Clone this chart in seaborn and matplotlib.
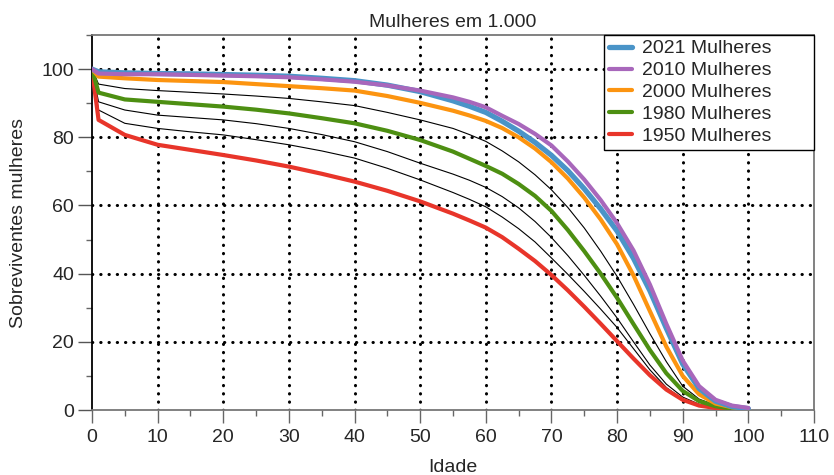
import matplotlib
matplotlib.use("Agg")
import matplotlib.pyplot as plt
import seaborn as sns
from matplotlib.ticker import MultipleLocator

ages = [0, 1, 5, 10, 15, 20, 25, 30, 35, 40, 45, 50, 55, 57.5, 60, 62.5, 65, 67.5, 70, 72.5,
        75, 77.5, 80, 82.5, 85, 87.5, 90, 92.5, 95, 97.5, 100]

s2021 = [100, 99.2, 98.9, 98.7, 98.6, 98.4, 98.2, 97.9, 97.3, 96.6, 95.3, 93.4, 90.7, 89.1, 87.3,
         84.7, 81.8, 78.5, 74.7, 70.2, 64.9, 59.0, 52.5, 44.5, 35.0, 24.0, 13.5, 6.3, 2.6, 1.0, 0.4]
s2010 = [100, 98.7, 98.5, 98.5, 98.3, 98.1, 97.9, 97.6, 97.0, 96.3, 95.2, 93.7, 91.7, 90.4, 88.8,
         86.3, 83.9, 81.0, 77.6, 72.9, 67.6, 61.6, 54.8, 46.8, 36.8, 25.3, 14.5, 7.0, 3.0, 1.3, 0.6]
s2000 = [100, 97.8, 97.3, 96.8, 96.5, 96.2, 95.6, 95.0, 94.4, 93.7, 92.1, 90.1, 87.8, 86.4, 84.8,
         82.7, 80.0, 76.7, 72.7, 67.9, 62.3, 55.9, 48.6, 39.5, 29.0, 18.6, 10.0, 4.6, 1.9, 0.8, 0.3]
s1990 = [100, 95.6, 94.3, 93.7, 93.2, 92.7, 92.1, 91.4, 90.4, 89.3, 87.3, 85.1, 82.6, 80.8, 78.8,
         76.0, 72.8, 69.0, 64.6, 59.4, 53.4, 46.6, 39.2, 31.0, 22.4, 14.2, 7.0, 3.2, 1.4, 0.5, 0.1]
s1980 = [100, 93.1, 91.1, 90.4, 89.7, 89.0, 88.1, 87.0, 85.6, 84.1, 81.9, 79.2, 75.8, 73.7, 71.6,
         69.3, 66.3, 62.8, 58.4, 52.8, 46.6, 40.0, 32.9, 25.2, 17.6, 10.8, 5.6, 2.6, 1.1, 0.4, 0.1]
s1970 = [100, 90.4, 88.0, 86.5, 85.8, 85.1, 84.0, 82.6, 80.8, 78.7, 75.8, 72.4, 69.2, 67.4, 65.3,
         62.6, 59.3, 55.3, 50.6, 45.3, 39.5, 33.4, 27.0, 20.0, 13.2, 7.6, 3.8, 1.7, 0.7, 0.3, 0.1]
s1960 = [100, 88.0, 84.1, 82.6, 81.6, 80.7, 79.3, 77.8, 76.0, 73.9, 70.9, 67.5, 63.8, 61.8, 59.6,
         56.6, 53.2, 49.3, 44.6, 39.8, 34.8, 29.6, 24.2, 18.0, 11.8, 6.6, 3.2, 1.5, 0.7, 0.3, 0.1]
s1950 = [100, 85.1, 80.7, 77.8, 76.3, 74.8, 73.2, 71.4, 69.3, 67.0, 64.3, 61.2, 57.6, 55.6, 53.5,
         50.7, 47.3, 43.7, 39.6, 35.1, 30.3, 25.3, 20.2, 15.1, 10.2, 6.0, 3.0, 1.3, 0.6, 0.2, 0.1]

colored_labels = ["2021 Mulheres", "2010 Mulheres", "2000 Mulheres", "1980 Mulheres", "1950 Mulheres"]
colored_series = [s2021, s2010, s2000, s1980, s1950]
colored_colors = ["#4a94c8", "#a867bb", "#fc9410", "#4d8f12", "#e8352a"]
colored_widths = [3.8, 3.0, 3.0, 3.0, 3.0]
black_series = [s1990, s1970, s1960]

x_ticks = [0, 10, 20, 30, 40, 50, 60, 70, 80, 90, 100, 110]
y_ticks = [0, 20, 40, 60, 80, 100]

sns.set_style("white")
plt.rcParams["font.family"] = ["Liberation Sans", "DejaVu Sans"]

fig = plt.figure(figsize=(8.34, 4.75), dpi=100)
ax = fig.add_axes([0.1103, 0.1368, 0.8657, 0.7895])

# dotted grid (interior lines only)
for xv in x_ticks[1:-1]:
    ax.axvline(xv, color="black", linestyle=(0, (0.1, 2.6)), lw=2.2,
               dash_capstyle="round", zorder=1)
for yv in y_ticks[1:]:
    ax.axhline(yv, color="black", linestyle=(0, (0.1, 2.6)), lw=2.2,
               dash_capstyle="round", zorder=1)

for s in black_series:
    sns.lineplot(x=ages, y=s, ax=ax, color="black", lw=0.8, zorder=3)

order = [4, 3, 2, 0, 1]
for i in order:
    sns.lineplot(x=ages, y=colored_series[i], ax=ax, color=colored_colors[i],
                 lw=colored_widths[i], label=colored_labels[i], zorder=4)
for line in ax.get_lines():
    line.set_solid_joinstyle("round")

ax.set_xlim(0, 110)
ax.set_ylim(0, 110)
ax.set_xticks(x_ticks)
ax.set_yticks(y_ticks)
ax.xaxis.set_minor_locator(MultipleLocator(5))
ax.yaxis.set_minor_locator(MultipleLocator(10))
ax.tick_params(axis="x", which="major", direction="out", length=9, width=1,
               labelsize=14, color="#666666", bottom=True, pad=5)
ax.tick_params(axis="y", which="major", direction="out", length=10, width=1,
               labelsize=14, color="#555555", left=True, pad=3)
ax.tick_params(axis="both", which="minor", direction="out", length=4.5, width=1,
               color="#666666", bottom=True, left=True)

for side in ["top", "right", "bottom"]:
    ax.spines[side].set_color("#777777")
    ax.spines[side].set_linewidth(1.3)
ax.spines["left"].set_color("black")
ax.spines["left"].set_linewidth(1.3)

ax.set_xlabel("Idade", fontsize=14, labelpad=9)
ax.set_ylabel("Sobreviventes mulheres", fontsize=14, labelpad=10)
ax.set_title("Mulheres em 1.000", fontsize=14, pad=6)

handles, labels = ax.get_legend_handles_labels()
hmap = dict(zip(labels, handles))
leg = ax.legend([hmap[l] for l in colored_labels], colored_labels,
                loc="upper left", bbox_to_anchor=(0.709, 0.0, 0.291, 1.0), mode="expand",
                borderaxespad=0, fancybox=False, edgecolor="black", framealpha=1,
                fontsize=14, handlelength=1.2, handletextpad=0.5, labelspacing=0.22,
                borderpad=0.25)
leg.get_frame().set_linewidth(1.0)
leg.set_zorder(10)

fig.savefig("out.png", dpi=100)
